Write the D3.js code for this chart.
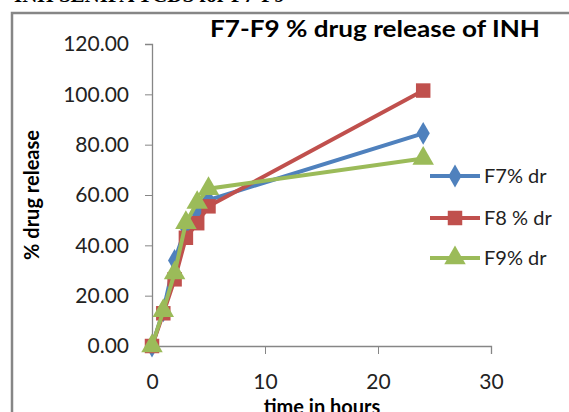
<!DOCTYPE html>
<html>
<head>
<meta charset="utf-8">
<script src="https://cdn.jsdelivr.net/npm/d3@7"></script>
<style>
  body { margin: 0; background: #fff; }
  text { font-family: Lato, "Open Sans", sans-serif; }
</style>
</head>
<body>
<div id="chart"></div>
<script>
var hours = [0, 1, 2, 3, 4, 5, 24];
var f7 = [0, 14, 34, 47, 53, 58, 84.5];
var f8 = [0, 13, 26.5, 43, 48.8, 55.5, 101.5];
var f9 = [0, 14, 29, 49, 57, 62.5, 74.5];
var seriesNames = ["F7% dr", "F8 % dr", "F9% dr"];
var xTicks = [0, 10, 20, 30];
var yTicks = [0, 20, 40, 60, 80, 100, 120];

var width = 569, height = 412;
var svg = d3.select("#chart").append("svg")
    .attr("width", width)
    .attr("height", height);

// cut off heading of the page above the chart
svg.append("text")
    .attr("x", 14).attr("y", 2)
    .style("font-family", "Liberation Serif")
    .style("font-weight", "bold")
    .style("font-size", "21px")
    .text("INH SENIPA TCDS for F7-F9");

// chart frame
svg.append("rect")
    .attr("x", 12).attr("y", 13)
    .attr("width", 570).attr("height", 420)
    .attr("fill", "none")
    .attr("stroke", "#868686")
    .attr("stroke-width", 2.5);

var x = d3.scaleLinear().domain([0, 30]).range([152, 491]);
var y = d3.scaleLinear().domain([0, 120]).range([346, 44]);

var yAxis = svg.append("g")
    .attr("transform", "translate(152,0)")
    .call(d3.axisLeft(y).tickValues(yTicks).tickFormat(d3.format(".2f")).tickSize(7).tickPadding(16));
var xAxis = svg.append("g")
    .attr("transform", "translate(0,346)")
    .call(d3.axisBottom(x).tickValues(xTicks).tickSize(8).tickPadding(20));

[yAxis, xAxis].forEach(function(a) {
    a.select(".domain").attr("stroke", "#868686").attr("stroke-width", 1.3);
    a.selectAll(".tick line").attr("stroke", "#868686");
    a.selectAll(".tick text")
        .style("font-family", "Lato, sans-serif")
        .style("font-size", "21px")
        .attr("fill", "#222");
});

var colors = ["#4F81BD", "#C0504D", "#9BBB59"];
var shapes = [d3.symbolDiamond, d3.symbolSquare, d3.symbolTriangle];
var sizes = [150, 210, 200];
var allSeries = [f7, f8, f9];

var line = d3.line()
    .x(function(d) { return x(d[0]); })
    .y(function(d) { return y(d[1]); });

allSeries.forEach(function(vals, i) {
    var pts = hours.map(function(h, j) { return [h, vals[j]]; });
    svg.append("path")
        .datum(pts)
        .attr("d", line)
        .attr("fill", "none")
        .attr("stroke", colors[i])
        .attr("stroke-width", 4);
    svg.selectAll(".m" + i)
        .data(pts)
        .join("path")
        .attr("class", "m" + i)
        .attr("transform", function(d) { return "translate(" + x(d[0]) + "," + y(d[1]) + ")"; })
        .attr("d", d3.symbol().type(shapes[i]).size(sizes[i]))
        .attr("fill", colors[i]);
});

// title
svg.append("text")
    .attr("x", 210).attr("y", 37)
    .attr("textLength", 330)
    .attr("lengthAdjust", "spacingAndGlyphs")
    .style("font-weight", "bold")
    .style("font-size", "22px")
    .text("F7-F9 % drug release of INH");

// axis titles
svg.append("text")
    .attr("transform", "translate(39,195) rotate(-90)")
    .attr("text-anchor", "middle")
    .style("font-weight", "bold")
    .style("font-size", "20px")
    .text("% drug release");
svg.append("text")
    .attr("x", 322).attr("y", 414)
    .attr("text-anchor", "middle")
    .style("font-weight", "bold")
    .style("font-size", "20px")
    .text("time in hours");

// legend
var legend = svg.append("g");
var legendY = [176, 218, 258];
seriesNames.forEach(function(name, i) {
    legend.append("line")
        .attr("x1", 430).attr("x2", 480)
        .attr("y1", legendY[i]).attr("y2", legendY[i])
        .attr("stroke", colors[i])
        .attr("stroke-width", 4);
    legend.append("path")
        .attr("transform", "translate(455," + legendY[i] + ")")
        .attr("d", d3.symbol().type(shapes[i]).size(sizes[i]))
        .attr("fill", colors[i]);
    legend.append("text")
        .attr("x", 484).attr("y", legendY[i] + 7)
        .style("font-size", "20px")
        .attr("fill", "#222")
        .text(name);
});
</script>
</body>
</html>
